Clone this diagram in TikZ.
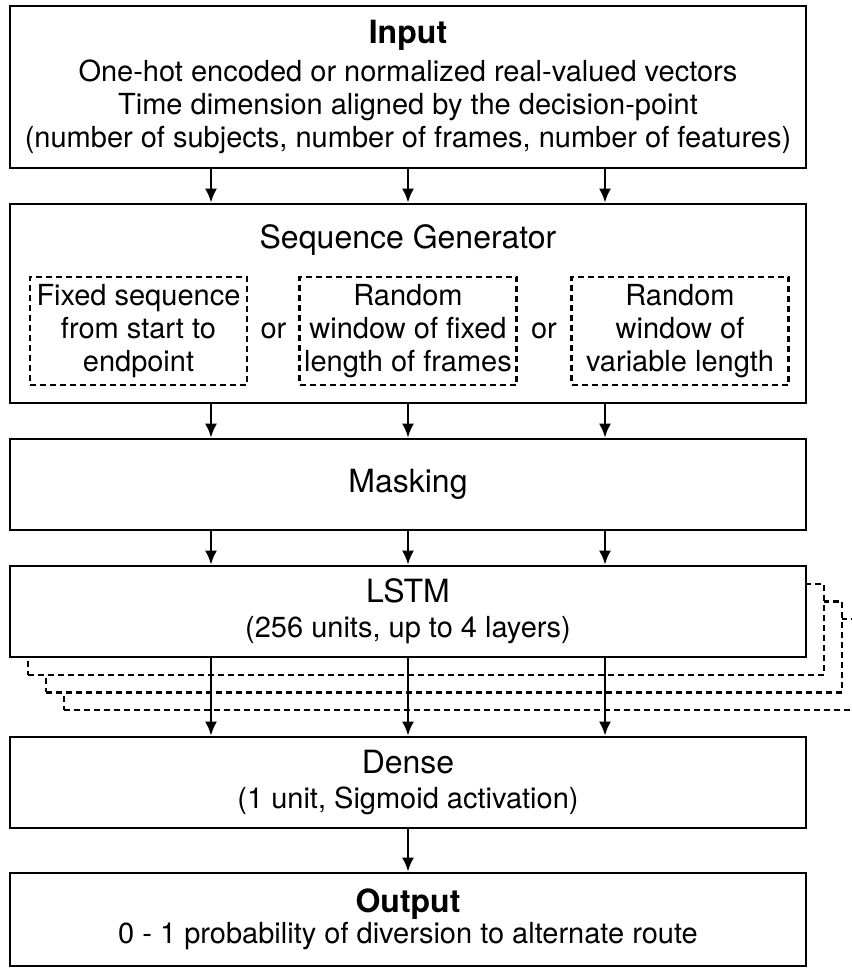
\documentclass[tikz,border=0pt]{standalone}
\usepackage{fontspec}
\setmainfont{TeX Gyre Heros}
\usetikzlibrary{arrows.meta}

\newcommand{\headline}[1]{{\fontsize{32}{33}\selectfont #1}}

\tikzset{
  block/.style={draw, line width=2.6pt, fill=white, minimum width=796pt, align=center, inner sep=0pt,
    font=\fontsize{29}{35}\selectfont},
  choice/.style={draw, line width=2.2pt, dash pattern=on 6pt off 4pt, minimum width=217pt, minimum height=108pt,
    align=center, inner sep=0pt, font=\fontsize{29}{33}\selectfont},
  layer/.style={draw, fill=white, line width=2.2pt, dash pattern=on 6pt off 4pt, minimum width=796pt, minimum height=91pt},
  label/.style={align=center, font=\fontsize{29}{33}\selectfont},
  flow/.style={-{Latex[length=14pt,width=12pt]}, line width=2.6pt},
}

\begin{document}
\begin{tikzpicture}[x=1pt, y=-1pt]
    \useasboundingbox (0,0) rectangle (852,970);

    % Input block
    \node[block, minimum height=162pt, font=\fontsize{29}{33}\selectfont] (input) at (408,87)
      {\headline{\bfseries Input}\\[5pt]One-hot encoded or normalized real-valued vectors\\Time dimension aligned by the decision-point\\(number of subjects, number of frames, number of features)};

    % Sequence generator with its three options
    \node[block, minimum height=199pt] (seqgen) at (408,303.5) {};
    \node[label] (seqtitle) at (408,240) {\headline{Sequence Generator}};
    \node[choice] (fixed) at (138.5,331) {Fixed sequence\\from start to\\endpoint};
    \node[choice] (window) at (408,331) {Random\\window of fixed\\length of frames};
    \node[choice] (varlen) at (680,331) {Random\\window of\\variable length};
    \node[label] (or1) at (273.5,331) {or};
    \node[label] (or2) at (544,331) {or};

    % Masking
    \node[block, minimum height=91pt] (masking) at (408,484.5) {\headline{Masking}};

    % stacked LSTM layers behind the first one
    \foreach \i in {3,2,1}
      \node[layer] (layer\i) at (408+18*\i, 611.5+17.7*\i) {};
    \node[block, minimum height=91pt] (lstm) at (408,611.5) {\headline{LSTM}\\(256 units, up to 4 layers)};

    % Dense and output
    \node[block, minimum height=91pt] (dense) at (408,782.5) {\headline{Dense}\\(1 unit, Sigmoid activation)};
    \node[block, minimum height=93pt, font=\fontsize{29}{31}\selectfont] (output) at (408,919.5)
      {\headline{\bfseries Output}\\0 - 1 probability of diversion to alternate route};

    % Arrows between the blocks
    \foreach \dx in {-197,0,197} {
      \draw[flow] ([xshift=\dx pt]input.south) -- ([xshift=\dx pt]seqgen.north);
      \draw[flow] ([xshift=\dx pt]seqgen.south) -- ([xshift=\dx pt]masking.north);
      \draw[flow] ([xshift=\dx pt]masking.south) -- ([xshift=\dx pt]lstm.north);
      \draw[flow] ([xshift=\dx pt]lstm.south) -- ([xshift=\dx pt]dense.north);
    }
    \draw[flow] (dense.south) -- (output.north);
\end{tikzpicture}
\end{document}
